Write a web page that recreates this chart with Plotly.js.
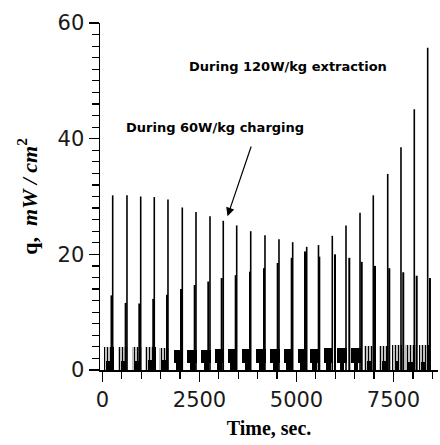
<!DOCTYPE html>
<html>
<head>
<meta charset="utf-8">
<script src="https://cdn.plot.ly/plotly-3.0.1.min.js"></script>
<style>
html,body{margin:0;padding:0;background:#fff;}
#chart{width:440px;height:445px;}
</style>
</head>
<body>
<div id="chart"></div>
<script>
// ---- data ----
const peakTime = [263, 631, 985, 1335, 1688, 2057, 2410, 2771, 3113, 3459, 3820, 4188, 4549, 4902, 5263, 5567, 5923, 6276, 6637, 6979, 7351, 7693, 8036, 8381];
const peakQ    = [30.2, 30.2, 30.0, 29.9, 29.5, 28.1, 27.3, 26.6, 25.8, 25.0, 24.0, 23.3, 22.6, 22.1, 21.3, 21.6, 23.2, 25.0, 27.2, 30.2, 33.9, 38.5, 45.1, 55.7];
const secTime  = [232, 597, 949, 1309, 1662, 2024, 2376, 2727, 3072, 3433, 3802, 4162, 4515, 4876, 5219, 5588, 5993, 6361, 6681, 7023, 7392, 7752, 8098, 8440];
const secQ     = [12.9, 11.6, 11.5, 12.3, 13.0, 14.0, 14.7, 15.3, 15.9, 16.4, 17.0, 17.6, 18.5, 19.4, 20.5, 19.6, 20.0, 19.4, 18.7, 18.0, 17.6, 16.9, 16.3, 15.9];
const darkTop  = [null, null, null, null, null, 3.5, 3.5, 3.5, 3.6, 3.6, 3.6, 3.6, 3.6, 3.7, 3.7, 3.7, 3.8, 3.8, 3.8, null, null, null, null, null];
const hatchTop = [4.0, 3.9, 3.9, 3.9, 3.8, null, null, null, null, null, null, null, null, null, null, null, null, null, null, 4.1, 4.2, 4.3, 4.3, 4.4];
const stemTop  = [1.5, 1.6, 1.6, 1.7, 1.7, 1.2, 1.2, 1.2, 1.2, 1.2, 1.2, 1.2, 1.2, 1.2, 1.2, 1.2, 1.2, 1.2, 1.2, 1.5, 1.5, 1.5, 1.4, 1.4];

const xTickVals = [0, 2500, 5000, 7500];
const yTickVals = [0, 20, 40, 60];
const label120 = "During 120W/kg extraction";
const label60  = "During 60W/kg charging";

// ---- build traces ----
function spikes(ts, qs) {
  const x = [], y = [];
  ts.forEach((t, i) => { x.push(t, t, null); y.push(0, qs[i], null); });
  return {x, y};
}
const blockShift = -100;
const hx = [], hy = [];
hatchTop.forEach((v, i) => { if (v !== null) { hx.push(peakTime[i] + blockShift); hy.push(v); } });
const dx = [], dy = [], db = [];
darkTop.forEach((v, i) => { if (v !== null) { dx.push(peakTime[i] + blockShift); dy.push(v - stemTop[i]); db.push(stemTop[i]); } });

const traces = [
  { type: 'bar', x: hx, y: hy, width: 270, hoverinfo: 'skip',
    marker: { color: '#ffffff', line: { width: 0 },
      pattern: { shape: '|', fgcolor: '#000', bgcolor: '#fff', size: 3, solidity: 0.5 } } },
  { type: 'bar', x: dx, y: dy, base: db, width: 240, hoverinfo: 'skip',
    marker: { color: '#000', line: { width: 0 } } },
  { type: 'bar', x: peakTime.map(t => t + blockShift), y: stemTop, width: 120, hoverinfo: 'skip',
    marker: { color: '#000', line: { width: 0 } } },
];
const s2 = spikes(secTime, secQ);
traces.push({ type: 'scatter', mode: 'lines', x: s2.x, y: s2.y, line: { color: '#000', width: 2 }, hoverinfo: 'skip' });
const s1 = spikes(peakTime, peakQ);
traces.push({ type: 'scatter', mode: 'lines', x: s1.x, y: s1.y, line: { color: '#000', width: 1.6 }, hoverinfo: 'skip' });

const tickFont = { family: 'DejaVu Sans', size: 21, color: '#1a1a1a' };
const layout = {
  width: 440, height: 445,
  margin: { l: 100, r: 2, t: 23, b: 75, pad: 0 },
  paper_bgcolor: '#fff', plot_bgcolor: '#fff',
  showlegend: false, barmode: 'overlay', bargap: 0,
  xaxis: {
    range: [-64, 8647], showgrid: false, zeroline: false,
    showline: true, linecolor: '#000', linewidth: 1.5,
    tickmode: 'array', tickvals: xTickVals, ticktext: xTickVals.map(String),
    ticks: 'outside', ticklen: 10, tickwidth: 1.5, tickcolor: '#000',
    minor: { dtick: 500, tick0: 0, ticks: 'outside', ticklen: 7, tickwidth: 1.2, tickcolor: '#000', showgrid: false },
    tickfont: tickFont,
    title: { text: '<b>Time, sec.</b>', font: { family: 'Liberation Serif', size: 20, color: '#000' }, standoff: 10 }
  },
  yaxis: {
    range: [0, 60], showgrid: false, zeroline: false,
    showline: true, linecolor: '#000', linewidth: 1.5,
    tickmode: 'array', tickvals: yTickVals, ticktext: yTickVals.map(String),
    ticks: 'outside', ticklen: 10, tickwidth: 1.5, tickcolor: '#000',
    minor: { dtick: 2, tick0: 0, ticks: 'outside', ticklen: 7, tickwidth: 1.2, tickcolor: '#000', showgrid: false },
    tickfont: tickFont,
    title: { text: '<b>q,  <i>mW / cm</i><sup>2</sup></b>', font: { family: 'Liberation Serif', size: 22, color: '#000' }, standoff: 14 }
  },
  annotations: [
    { x: 4781, y: 52.4, xref: 'x', yref: 'y', text: '<b>' + label120 + '</b>', showarrow: false,
      font: { family: 'DejaVu Sans', size: 13, color: '#000' } },
    { x: 2906, y: 42.0, xref: 'x', yref: 'y', text: '<b>' + label60 + '</b>', showarrow: false,
      font: { family: 'DejaVu Sans', size: 13, color: '#000' } },
    { x: 3222, y: 26.6, xref: 'x', yref: 'y', ax: 3845, ay: 38.9, axref: 'x', ayref: 'y',
      text: '', showarrow: true, arrowhead: 2, arrowsize: 1.4, arrowwidth: 1.2, arrowcolor: '#000' }
  ]
};
Plotly.newPlot('chart', traces, layout, { staticPlot: true, displayModeBar: false });
</script>
</body>
</html>
